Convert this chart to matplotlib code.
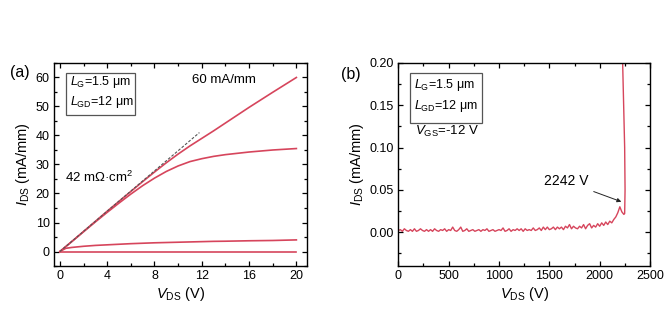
import numpy as np
import matplotlib
matplotlib.use("Agg")
import matplotlib.pyplot as plt
from matplotlib.ticker import AutoMinorLocator, MultipleLocator, FormatStrFormatter
from matplotlib.patches import Rectangle

plt.rcParams["font.family"] = ["Liberation Sans", "DejaVu Sans"]
plt.rcParams["mathtext.fontset"] = "custom"
plt.rcParams["mathtext.rm"] = "Liberation Sans"
plt.rcParams["mathtext.it"] = "Liberation Sans:italic"

RED = "#d6455c"

# (a) output curves
vds_a = [0, 0.5, 1, 2, 3, 4, 5, 6, 7, 8, 9, 10, 11, 12, 13, 14, 16, 18, 20]
ids_1 = [0, 1.7, 3.4, 6.9, 10.4, 13.9, 17.3, 20.7, 24.1, 27.4, 30.6, 33.6,
         36.4, 39.0, 41.6, 44.3, 49.7, 54.9, 60.0]
ids_2 = [0, 1.7, 3.4, 6.8, 10.2, 13.5, 16.7, 19.8, 22.7, 25.3, 27.6, 29.5,
         31.0, 32.0, 32.8, 33.4, 34.3, 35.0, 35.5]
ids_3 = [0, 1.1, 1.4, 1.8, 2.1, 2.3, 2.5, 2.7, 2.85, 3.0, 3.1, 3.2,
         3.3, 3.4, 3.5, 3.55, 3.7, 3.8, 4.0]
ids_4 = [0] * len(vds_a)
fit_v = [0, 11.8]
fit_i = [0, 41.0]

# (b) off-state breakdown sweep, 20 V steps
vds_b = np.arange(0, 2241, 20)
ids_b = [0.002, 0.003, 0.001, 0.004, 0.002, 0.001, 0.003, 0.001, 0.004, 0.001,
         0.002, 0.004, 0.002, 0.001, 0.003, 0.001, 0.003, 0.001, 0.004, 0.002,
         0.001, 0.003, 0.002, 0.004, 0.001, 0.003, 0.002, 0.006, 0.002, 0.001,
         0.003, 0.006, 0.001, 0.002, 0.004, 0.001, 0.002, 0.003, 0.001, 0.002,
         0.003, 0.001, 0.003, 0.002, 0.004, 0.001, 0.002, 0.003, 0.001, 0.002,
         0.003, 0.002, 0.005, 0.001, 0.002, 0.004, 0.001, 0.003, 0.002, 0.004,
         0.002, 0.004, 0.001, 0.004, 0.002, 0.003, 0.002, 0.005, 0.002, 0.003,
         0.005, 0.002, 0.006, 0.003, 0.006, 0.003, 0.004, 0.006, 0.003, 0.006,
         0.004, 0.006, 0.003, 0.007, 0.005, 0.009, 0.004, 0.007, 0.005, 0.004,
         0.007, 0.005, 0.009, 0.004, 0.008, 0.010, 0.005, 0.008, 0.006, 0.010,
         0.007, 0.011, 0.008, 0.012, 0.009, 0.013, 0.011, 0.015, 0.018, 0.023,
         0.030, 0.024, 0.021]
tail_v = [2248, 2252, 2248, 2238, 2226]
tail_i = [0.022, 0.050, 0.100, 0.150, 0.210]

fig = plt.figure(figsize=(6.68, 3.24), dpi=100)
ax1 = fig.add_axes([0.0808, 0.179, 0.3788, 0.6266])
ax2 = fig.add_axes([0.5963, 0.179, 0.3768, 0.6266])

for ax in (ax1, ax2):
    ax.tick_params(which="both", direction="in", top=True, right=True,
                   labelsize=9, width=0.9, pad=3)
    ax.tick_params(which="major", length=3.5)
    ax.tick_params(which="minor", length=2)
    ax.xaxis.set_minor_locator(AutoMinorLocator(2))
    ax.yaxis.set_minor_locator(AutoMinorLocator(2))
    for s in ax.spines.values():
        s.set_linewidth(1.0)

# panel a
for y in (ids_1, ids_2, ids_3, ids_4):
    ax1.plot(vds_a, y, color=RED, lw=1.2)
ax1.plot(fit_v, fit_i, color="#555555", lw=0.8, ls=(0, (2.5, 1.5)))
ax1.set_xlim(-0.5, 20.9)
ax1.set_ylim(-5, 65)
ax1.xaxis.set_major_locator(MultipleLocator(4))
ax1.yaxis.set_major_locator(MultipleLocator(10))
ax1.set_xlabel(r"$V_{\rm DS}$ (V)", fontsize=10.5)
ax1.set_ylabel(r"$I_{\rm DS}$ (mA/mm)", fontsize=10.5)
ax1.xaxis.set_label_coords(0.5, -0.095)
ax1.yaxis.set_label_coords(-0.085, 0.5)
ax1.add_patch(Rectangle((0.046, 0.744), 0.274, 0.208, transform=ax1.transAxes,
                        fill=False, ec="#555555", lw=0.9))
ax1.text(0.063, 0.908, r"$L_{\rm G}$=1.5 μm", transform=ax1.transAxes,
         fontsize=9, va="center")
ax1.text(0.063, 0.809, r"$L_{\rm GD}$=12 μm", transform=ax1.transAxes,
         fontsize=9, va="center")
ax1.text(11.2, 59, "60 mA/mm", fontsize=9.5, va="center")
ax1.text(0.4, 25.5, r"42 mΩ·cm$^2$", fontsize=9.5, va="center")
fig.text(10 / 668, 1 - 72 / 324, "(a)", fontsize=11.5, va="center")

# panel b
ax2.plot(np.concatenate([vds_b, tail_v]), np.concatenate([ids_b, tail_i]),
         color=RED, lw=1.0)
ax2.set_xlim(0, 2500)
ax2.set_ylim(-0.04, 0.20)
ax2.xaxis.set_major_locator(MultipleLocator(500))
ax2.yaxis.set_major_locator(MultipleLocator(0.05))
ax2.yaxis.set_major_formatter(FormatStrFormatter("%.2f"))
ax2.set_xlabel(r"$V_{\rm DS}$ (V)", fontsize=10.5)
ax2.set_ylabel(r"$I_{\rm DS}$ (mA/mm)", fontsize=10.5)
ax2.xaxis.set_label_coords(0.5, -0.095)
ax2.yaxis.set_label_coords(-0.128, 0.5)
ax2.add_patch(Rectangle((0.046, 0.702), 0.288, 0.249, transform=ax2.transAxes,
                        fill=False, ec="#555555", lw=0.9))
ax2.text(0.062, 0.890, r"$L_{\rm G}$=1.5 μm", transform=ax2.transAxes,
         fontsize=9, va="center")
ax2.text(0.062, 0.788, r"$L_{\rm GD}$=12 μm", transform=ax2.transAxes,
         fontsize=9, va="center")
ax2.text(0.066, 0.661, r"$V_{\rm GS}$=-12 V", transform=ax2.transAxes,
         fontsize=9.5, va="center")
ax2.annotate("2242 V", xy=(2215, 0.036), xytext=(1445, 0.060),
             fontsize=10, va="center",
             arrowprops=dict(arrowstyle="-|>", color="#222222", lw=0.7,
                             shrinkA=2, shrinkB=0, mutation_scale=6))
fig.text(341 / 668, 1 - 74 / 324, "(b)", fontsize=11.5, va="center")

fig.savefig("out.png", dpi=100)
